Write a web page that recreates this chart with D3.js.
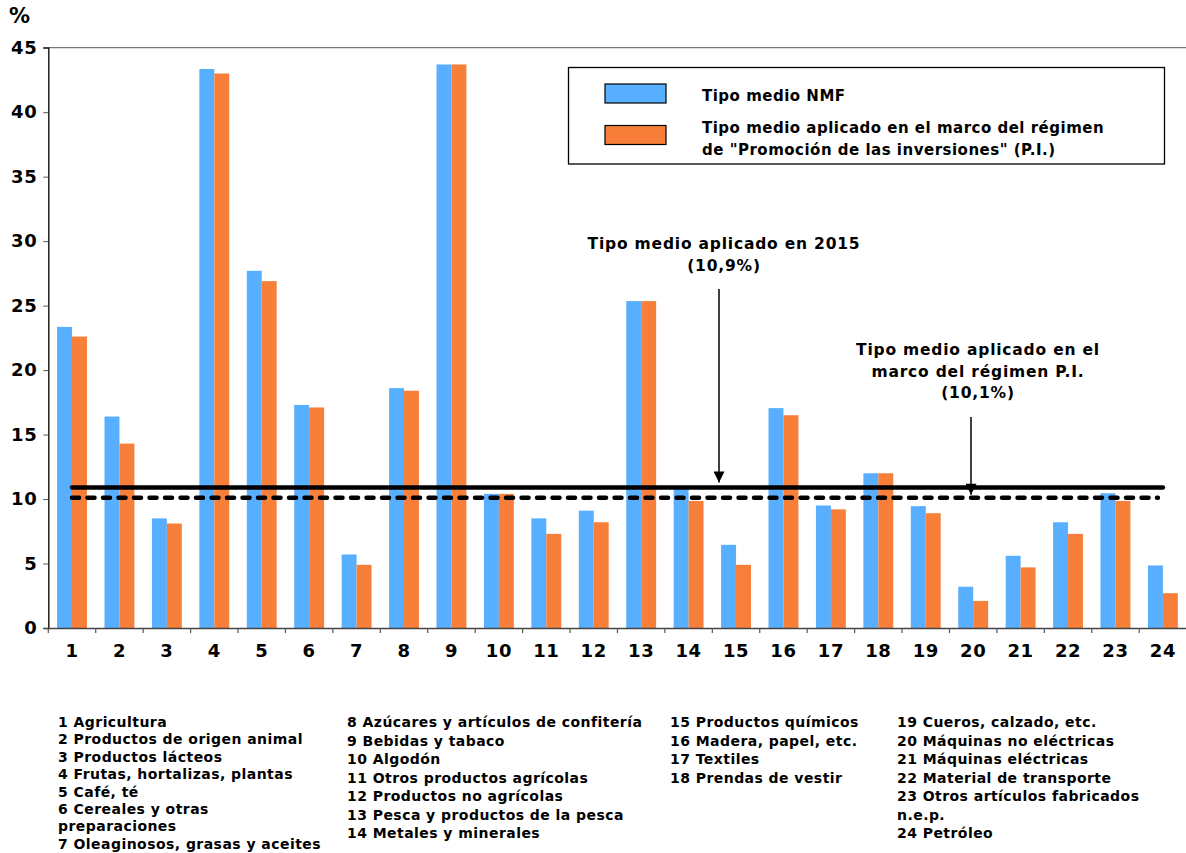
<!DOCTYPE html>
<html>
<head>
<meta charset="utf-8">
<script src="https://cdn.jsdelivr.net/npm/d3@7"></script>
<style>
  body { margin: 0; background: #fff; }
  svg text { font-family: Verdana, "DejaVu Sans", sans-serif; font-weight: bold; fill: #000; }
</style>
</head>
<body>
<div id="chart"></div>
<script>
// data
var categories = d3.range(1, 25).map(String);
var nmf = [23.35, 16.4, 8.5, 43.35, 27.7, 17.3, 5.7, 18.6, 43.7, 10.4, 8.5, 9.1,
           25.35, 10.8, 6.45, 17.05, 9.5, 12.0, 9.45, 3.2, 5.6, 8.2, 10.45, 4.85];
var pi  = [22.6, 14.3, 8.1, 43.0, 26.9, 17.1, 4.9, 18.4, 43.7, 10.4, 7.3, 8.2,
           25.35, 9.85, 4.9, 16.5, 9.2, 12.0, 8.9, 2.1, 4.7, 7.3, 9.85, 2.7];
var avg2015 = 10.9;
var avgPI = 10.1;
var yTicks = [0, 5, 10, 15, 20, 25, 30, 35, 40, 45];
var seriesNames = ["Tipo medio NMF",
  ["Tipo medio aplicado en el marco del régimen", "de \"Promoción de las inversiones\" (P.I.)"]];
var notes2015 = ["Tipo medio aplicado en 2015", "(10,9%)"];
var notesPI = ["Tipo medio aplicado en el", "marco del régimen P.I.", "(10,1%)"];
var keyColumns = [
  ["1 Agricultura", "2 Productos de origen animal", "3 Productos lácteos",
   "4 Frutas, hortalizas, plantas", "5 Café, té", "6 Cereales y otras",
   "preparaciones", "7 Oleaginosos, grasas y aceites"],
  ["8 Azúcares y artículos de confitería", "9 Bebidas y tabaco", "10 Algodón",
   "11 Otros productos agrícolas", "12 Productos no agrícolas",
   "13 Pesca y productos de la pesca", "14 Metales y minerales"],
  ["15 Productos químicos", "16 Madera, papel, etc.", "17 Textiles", "18 Prendas de vestir"],
  ["19 Cueros, calzado, etc.", "20 Máquinas no eléctricas", "21 Máquinas eléctricas",
   "22 Material de transporte", "23 Otros artículos fabricados", "n.e.p.", "24 Petróleo"]
];

//
// setup
//
var width = 1186, height = 853;
var colors = ["#58AFFF", "#F77F39"];
var margin = { left: 48.3, right: 0, top: 47.7, plotBottom: 628 };

var svg = d3.select("#chart").append("svg")
    .attr("width", width)
    .attr("height", height);

var x = d3.scaleBand()
    .domain(categories)
    .range([margin.left, margin.left + 47.43 * 24])
    .padding(0);

var groupW = x.bandwidth() * 0.63;
var xSub = d3.scaleBand()
    .domain([0, 1])
    .range([0, groupW]);

var y = d3.scaleLinear()
    .domain([0, 45])
    .range([margin.plotBottom, margin.top]);

//
// top frame line
//
svg.append("line")
    .attr("x1", margin.left - 5).attr("x2", width)
    .attr("y1", y(45)).attr("y2", y(45))
    .attr("stroke", "#777").attr("stroke-width", 1.3);

//
// bars
//
var rows = categories.map(function(c, i) { return { cat: c, vals: [nmf[i], pi[i]] }; });

var groups = svg.append("g").selectAll("g")
    .data(rows)
    .enter().append("g")
    .attr("transform", function(d) {
      return "translate(" + (x(d.cat) + (x.bandwidth() - groupW) / 2) + ",0)";
    });

groups.selectAll("rect")
    .data(function(d) { return d.vals; })
    .enter().append("rect")
    .attr("x", function(d, i) { return xSub(i); })
    .attr("width", xSub.bandwidth())
    .attr("y", function(d) { return y(d); })
    .attr("height", function(d) { return y(0) - y(d); })
    .attr("fill", function(d, i) { return colors[i]; });

//
// average lines (from first to last category centre)
//
var x0 = x(categories[0]) + x.bandwidth() / 2;
var x1 = x(categories[categories.length - 1]) + x.bandwidth() / 2;

svg.append("line")
    .attr("x1", x0).attr("x2", x1)
    .attr("y1", y(avg2015)).attr("y2", y(avg2015))
    .attr("stroke", "#000").attr("stroke-width", 4.5)
    .attr("stroke-linecap", "round");

svg.append("line")
    .attr("x1", x0).attr("x2", x1 - 5)
    .attr("y1", y(avgPI)).attr("y2", y(avgPI))
    .attr("stroke", "#000").attr("stroke-width", 4.5)
    .attr("stroke-linecap", "round")
    .attr("stroke-dasharray", "7,8.5");

//
// axes
//
var yAxis = svg.append("g")
    .attr("transform", "translate(" + margin.left + ",0)")
    .call(d3.axisLeft(y).tickValues(yTicks).tickSize(5).tickPadding(6));
yAxis.select(".domain").attr("stroke", "#000").attr("stroke-width", 1.3);
yAxis.selectAll(".tick line").attr("stroke", "#555");
yAxis.selectAll("text").style("font-size", "18px").style("letter-spacing", "0.6px").attr("fill", "#000");

var xAxis = svg.append("g")
    .attr("transform", "translate(0," + y(0) + ")")
    .call(d3.axisBottom(x).tickSize(0).tickPadding(16));
xAxis.select(".domain").attr("stroke", "#444").attr("stroke-width", 1.3);
xAxis.selectAll("text").style("font-size", "18px").style("letter-spacing", "0.6px").attr("fill", "#000");

// category separators
svg.append("g").selectAll("line")
    .data(categories)
    .enter().append("line")
    .attr("x1", function(d) { return x(d); })
    .attr("x2", function(d) { return x(d); })
    .attr("y1", y(0)).attr("y2", y(0) + 5)
    .attr("stroke", "#555").attr("stroke-width", 1.2);

svg.append("text")
    .attr("x", 9).attr("y", 23)
    .style("font-size", "21px")
    .text("%");

//
// legend
//
var lg = svg.append("g");
lg.append("rect")
    .attr("x", 568.5).attr("y", 67.5)
    .attr("width", 596).attr("height", 96.5)
    .attr("fill", "#fff").attr("stroke", "#000").attr("stroke-width", 1.3);

lg.selectAll("rect.sw")
    .data(colors)
    .enter().append("rect")
    .attr("class", "sw")
    .attr("x", 605).attr("width", 61)
    .attr("y", function(d, i) { return 84 + i * 41.5; })
    .attr("height", 19)
    .attr("fill", function(d) { return d; })
    .attr("stroke", "#000").attr("stroke-width", 1.2);

var legendLines = [
  { t: seriesNames[0], y: 101 },
  { t: seriesNames[1][0], y: 133 },
  { t: seriesNames[1][1], y: 155 }
];
lg.selectAll("text")
    .data(legendLines)
    .enter().append("text")
    .attr("x", 702)
    .attr("y", function(d) { return d.y; })
    .style("font-size", "15px")
    .style("letter-spacing", "0.5px")
    .text(function(d) { return d.t; });

//
// annotations with arrows
//
svg.append("defs").append("marker")
    .attr("id", "arr")
    .attr("viewBox", "0 0 10 10")
    .attr("refX", 10).attr("refY", 5)
    .attr("markerWidth", 12).attr("markerHeight", 11)
    .attr("markerUnits", "userSpaceOnUse")
    .attr("orient", "auto")
    .append("path")
    .attr("d", "M0,0L10,5L0,10Z")
    .attr("fill", "#000");

function annotate(lines, cx, y0, arrowX, arrowTop, arrowTip) {
  var g = svg.append("g");
  g.selectAll("text")
      .data(lines)
      .enter().append("text")
      .attr("x", cx)
      .attr("y", function(d, i) { return y0 + i * 21.5; })
      .attr("text-anchor", "middle")
      .style("font-size", "15.5px")
      .style("letter-spacing", "0.8px")
      .text(function(d) { return d; });
  g.append("line")
      .attr("x1", arrowX).attr("x2", arrowX)
      .attr("y1", arrowTop).attr("y2", arrowTip)
      .attr("stroke", "#000").attr("stroke-width", 1.5)
      .attr("marker-end", "url(#arr)");
}

annotate(notes2015, 724, 249, 719, 289, y(avg2015) - 5);
annotate(notesPI, 978, 355, 971, 417, y(avgPI) - 3);

//
// key of the categories
//
var colX = [58, 347, 670, 897];
var colStep = [17.4, 18.5, 18.5, 18.5];
keyColumns.forEach(function(col, ci) {
  svg.append("g").selectAll("text")
      .data(col)
      .enter().append("text")
      .attr("x", colX[ci])
      .attr("y", function(d, i) { return 727 + i * colStep[ci]; })
      .style("font-size", "14px")
      .style("letter-spacing", "0.45px")
      .text(function(d) { return d; });
});
</script>
</body>
</html>
